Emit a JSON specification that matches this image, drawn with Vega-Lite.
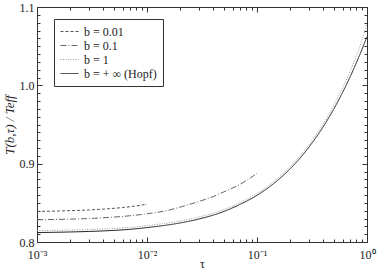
{
  "$schema": "https://vega.github.io/schema/vega-lite/v6.json",
  "autosize": {"type": "none"},
  "width": 330,
  "height": 235,
  "padding": {"left": 37, "top": 7, "right": 12, "bottom": 28},
  "background": "white",
  "config": {
    "view": {"stroke": null},
    "font": "Liberation Serif",
    "axis": {"grid": false, "domainColor": "#333", "tickColor": "#333", "labelColor": "#222", "titleColor": "#222", "labelFont": "Liberation Serif", "titleFont": "Liberation Serif", "labelFontSize": 12, "titleFontWeight": "normal"},
    "legend": {"labelFont": "Liberation Serif", "labelFontSize": 12, "labelColor": "#222"}
  },
  "data": {
    "values": [
      {"tau": 0.001, "T": 0.8390, "series": "b = 0.01"},
      {"tau": 0.002, "T": 0.8400, "series": "b = 0.01"},
      {"tau": 0.003, "T": 0.8410, "series": "b = 0.01"},
      {"tau": 0.004, "T": 0.8420, "series": "b = 0.01"},
      {"tau": 0.005, "T": 0.8430, "series": "b = 0.01"},
      {"tau": 0.006, "T": 0.8440, "series": "b = 0.01"},
      {"tau": 0.007, "T": 0.8450, "series": "b = 0.01"},
      {"tau": 0.008, "T": 0.8461, "series": "b = 0.01"},
      {"tau": 0.009, "T": 0.8472, "series": "b = 0.01"},
      {"tau": 0.01, "T": 0.8484, "series": "b = 0.01"},
      {"tau": 0.001, "T": 0.8284, "series": "b = 0.1"},
      {"tau": 0.002, "T": 0.8292, "series": "b = 0.1"},
      {"tau": 0.003, "T": 0.8300, "series": "b = 0.1"},
      {"tau": 0.005, "T": 0.8318, "series": "b = 0.1"},
      {"tau": 0.007, "T": 0.8335, "series": "b = 0.1"},
      {"tau": 0.01, "T": 0.8360, "series": "b = 0.1"},
      {"tau": 0.015, "T": 0.8400, "series": "b = 0.1"},
      {"tau": 0.02, "T": 0.8445, "series": "b = 0.1"},
      {"tau": 0.03, "T": 0.8520, "series": "b = 0.1"},
      {"tau": 0.04, "T": 0.8580, "series": "b = 0.1"},
      {"tau": 0.05, "T": 0.8640, "series": "b = 0.1"},
      {"tau": 0.06, "T": 0.8690, "series": "b = 0.1"},
      {"tau": 0.07, "T": 0.8735, "series": "b = 0.1"},
      {"tau": 0.08, "T": 0.8785, "series": "b = 0.1"},
      {"tau": 0.09, "T": 0.8830, "series": "b = 0.1"},
      {"tau": 0.1, "T": 0.8880, "series": "b = 0.1"},
      {"tau": 0.001, "T": 0.8146, "series": "b = 1"},
      {"tau": 0.002, "T": 0.8153, "series": "b = 1"},
      {"tau": 0.003, "T": 0.8160, "series": "b = 1"},
      {"tau": 0.005, "T": 0.8173, "series": "b = 1"},
      {"tau": 0.007, "T": 0.8187, "series": "b = 1"},
      {"tau": 0.01, "T": 0.8209, "series": "b = 1"},
      {"tau": 0.02, "T": 0.8268, "series": "b = 1"},
      {"tau": 0.03, "T": 0.8320, "series": "b = 1"},
      {"tau": 0.05, "T": 0.8414, "series": "b = 1"},
      {"tau": 0.07, "T": 0.8503, "series": "b = 1"},
      {"tau": 0.1, "T": 0.8620, "series": "b = 1"},
      {"tau": 0.15, "T": 0.8800, "series": "b = 1"},
      {"tau": 0.2, "T": 0.8962, "series": "b = 1"},
      {"tau": 0.3, "T": 0.9252, "series": "b = 1"},
      {"tau": 0.4, "T": 0.9510, "series": "b = 1"},
      {"tau": 0.5, "T": 0.9750, "series": "b = 1"},
      {"tau": 0.6, "T": 0.9970, "series": "b = 1"},
      {"tau": 0.7, "T": 1.0175, "series": "b = 1"},
      {"tau": 0.8, "T": 1.0375, "series": "b = 1"},
      {"tau": 0.9, "T": 1.0575, "series": "b = 1"},
      {"tau": 1.0, "T": 1.0790, "series": "b = 1"},
      {"tau": 0.001, "T": 0.8121, "series": "b = + ∞ (Hopf)"},
      {"tau": 0.002, "T": 0.8128, "series": "b = + ∞ (Hopf)"},
      {"tau": 0.003, "T": 0.8135, "series": "b = + ∞ (Hopf)"},
      {"tau": 0.005, "T": 0.8148, "series": "b = + ∞ (Hopf)"},
      {"tau": 0.007, "T": 0.8162, "series": "b = + ∞ (Hopf)"},
      {"tau": 0.01, "T": 0.8184, "series": "b = + ∞ (Hopf)"},
      {"tau": 0.02, "T": 0.8243, "series": "b = + ∞ (Hopf)"},
      {"tau": 0.03, "T": 0.8295, "series": "b = + ∞ (Hopf)"},
      {"tau": 0.05, "T": 0.8390, "series": "b = + ∞ (Hopf)"},
      {"tau": 0.07, "T": 0.8480, "series": "b = + ∞ (Hopf)"},
      {"tau": 0.1, "T": 0.8596, "series": "b = + ∞ (Hopf)"},
      {"tau": 0.15, "T": 0.8774, "series": "b = + ∞ (Hopf)"},
      {"tau": 0.2, "T": 0.8934, "series": "b = + ∞ (Hopf)"},
      {"tau": 0.3, "T": 0.9220, "series": "b = + ∞ (Hopf)"},
      {"tau": 0.4, "T": 0.9472, "series": "b = + ∞ (Hopf)"},
      {"tau": 0.5, "T": 0.9700, "series": "b = + ∞ (Hopf)"},
      {"tau": 0.6, "T": 0.9909, "series": "b = + ∞ (Hopf)"},
      {"tau": 0.7, "T": 1.0104, "series": "b = + ∞ (Hopf)"},
      {"tau": 0.8, "T": 1.0286, "series": "b = + ∞ (Hopf)"},
      {"tau": 0.9, "T": 1.0458, "series": "b = + ∞ (Hopf)"},
      {"tau": 1.0, "T": 1.0621, "series": "b = + ∞ (Hopf)"}
    ]
  },
  "resolve": {"axis": {"x": "independent", "y": "independent"}},
  "layer": [
    {
      "mark": {"type": "line", "strokeWidth": 1, "interpolate": "monotone"},
      "encoding": {
        "x": {
          "field": "tau", "type": "quantitative",
          "scale": {"type": "log", "domain": [0.001, 1], "nice": false},
          "axis": {
            "orient": "bottom", "title": "τ", "titleFontSize": 12, "titlePadding": -4,
            "values": [0.001,0.002,0.003,0.004,0.005,0.006,0.007,0.008,0.009,0.01,0.02,0.03,0.04,0.05,0.06,0.07,0.08,0.09,0.1,0.2,0.3,0.4,0.5,0.6,0.7,0.8,0.9,1],
            "labelExpr": "datum.value == 0.001 ? '10⁻³' : datum.value == 0.01 ? '10⁻²' : datum.value == 0.1 ? '10⁻¹' : datum.value == 1 ? '10⁰' : ''",
            "labelOverlap": false, "labelFlush": false,
            "tickSize": {"condition": {"test": "datum.value == 0.001 || datum.value == 0.01 || datum.value == 0.1 || datum.value == 1", "value": -5}, "value": -3},
            "labelPadding": 12
          }
        },
        "y": {
          "field": "T", "type": "quantitative",
          "scale": {"domain": [0.8, 1.1], "nice": false, "zero": false},
          "axis": {
            "orient": "left", "title": "T(b,τ) / Teff", "titleFontStyle": "italic", "titleFontSize": 13, "titlePadding": 3,
            "values": [0.8,0.81,0.82,0.83,0.84,0.85,0.86,0.87,0.88,0.89,0.9,0.91,0.92,0.93,0.94,0.95,0.96,0.97,0.98,0.99,1.0,1.01,1.02,1.03,1.04,1.05,1.06,1.07,1.08,1.09,1.1],
            "labelExpr": "abs(datum.value * 10 - round(datum.value * 10)) < 0.001 ? format(datum.value, '.1f') : ''",
            "labelOverlap": false, "labelFlush": false,
            "tickSize": {"condition": {"test": "abs(datum.value * 10 - round(datum.value * 10)) < 0.001", "value": -5}, "value": -3},
            "labelPadding": 8
          }
        },
        "color": {
          "field": "series", "type": "nominal",
          "scale": {"domain": ["b = 0.01", "b = 0.1", "b = 1", "b = + ∞ (Hopf)"], "range": ["#555555", "#666666", "#999999", "#222222"]},
          "legend": {"title": null, "orient": "none", "legendX": 17, "legendY": 12, "strokeColor": "#333", "padding": 6, "symbolType": "M-1,0H2", "symbolSize": 144, "symbolStrokeWidth": 1, "labelOffset": 11, "rowPadding": 1}
        },
        "strokeDash": {
          "field": "series", "type": "nominal",
          "scale": {"domain": ["b = 0.01", "b = 0.1", "b = 1", "b = + ∞ (Hopf)"], "range": [[3, 2], [6, 2, 1, 2], [1, 1.5], [1, 0]]},
          "legend": {"title": null, "orient": "none", "legendX": 17, "legendY": 12, "strokeColor": "#333", "padding": 6, "symbolType": "M-1,0H2", "symbolSize": 144, "symbolStrokeWidth": 1, "labelOffset": 11, "rowPadding": 1}
        }
      }
    },
    {
      "mark": {"type": "line", "opacity": 0},
      "encoding": {
        "x": {
          "field": "tau", "type": "quantitative",
          "axis": {
            "orient": "top", "title": null, "labels": false,
            "values": [0.001,0.002,0.003,0.004,0.005,0.006,0.007,0.008,0.009,0.01,0.02,0.03,0.04,0.05,0.06,0.07,0.08,0.09,0.1,0.2,0.3,0.4,0.5,0.6,0.7,0.8,0.9,1],
            "tickSize": {"condition": {"test": "datum.value == 0.001 || datum.value == 0.01 || datum.value == 0.1 || datum.value == 1", "value": -5}, "value": -3}
          }
        },
        "y": {
          "field": "T", "type": "quantitative",
          "axis": {
            "orient": "right", "title": null, "labels": false,
            "values": [0.8,0.81,0.82,0.83,0.84,0.85,0.86,0.87,0.88,0.89,0.9,0.91,0.92,0.93,0.94,0.95,0.96,0.97,0.98,0.99,1.0,1.01,1.02,1.03,1.04,1.05,1.06,1.07,1.08,1.09,1.1],
            "tickSize": {"condition": {"test": "abs(datum.value * 10 - round(datum.value * 10)) < 0.001", "value": -5}, "value": -3}
          }
        },
        "detail": {"field": "series", "type": "nominal"}
      }
    }
  ]
}
